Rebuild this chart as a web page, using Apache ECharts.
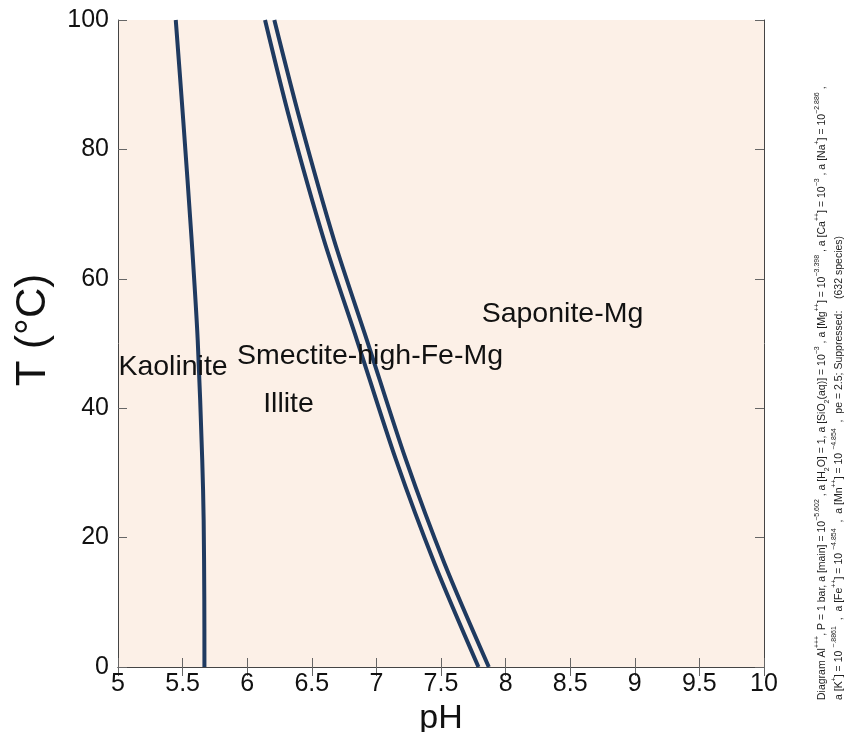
<!DOCTYPE html>
<html>
<head>
<meta charset="utf-8">
<script src="https://cdn.jsdelivr.net/npm/echarts@6/dist/echarts.min.js"></script>
<style>
  html, body { margin: 0; padding: 0; background: #ffffff; }
  #chart { width: 853px; height: 732px; }
</style>
</head>
<body>
<div id="chart"></div>
<script>
// Kaolinite / Illite boundary (temperature in °C, pH)
const kaoliniteT  = [0, 10.4, 22.7, 32.0, 50.5, 66.0, 84.5, 100];
const kaolinitePH = [5.669, 5.668, 5.663, 5.652, 5.617, 5.570, 5.505, 5.447];

// Illite / Smectite boundary
const boundaryAT  = [0, 16, 32, 50.5, 66, 84.5, 100];
const boundaryAPH = [7.79, 7.45, 7.152, 6.850, 6.594, 6.331, 6.138];

// Smectite / Saponite boundary
const boundaryBT  = [0, 16, 32, 50.5, 66, 84.5, 100];
const boundaryBPH = [7.87, 7.527, 7.229, 6.927, 6.672, 6.409, 6.210];

// Stability field labels
const fieldNames = ['Kaolinite', 'Smectite-high-Fe-Mg', 'Illite', 'Saponite-Mg'];
const fieldPH    = [5.426, 6.95, 6.32, 8.44];
const fieldT     = [46.4, 48.1, 40.6, 54.6];

// Axis ranges and tick steps
const phRange = [5, 10];
const phStep  = 0.5;
const tRange  = [0, 100];
const tStep   = 20;

const FONT = 'Liberation Sans, Arial, sans-serif';
const LINE_COLOR = '#1f3a60';

function pairs(xs, ys) { return xs.map((x, i) => [x, ys[i]]); }

// Conditions text (rich text with super/subscripts)
const noteLine1 =
  '{n|Diagram Al}{p|+++}{n|, P = 1 bar, a [main] = 10}{p|\u22125.602}' +
  '{n| , a [H}{b|2}{n|O] = 1, a [SiO}{b|2}{n|(aq)] = 10}{p|\u22123}' +
  '{n| , a [Mg}{p|++}{n|] = 10}{p|\u22123.398}{n| , a [Ca}{p|++}{n|] = 10}{p|\u22123}' +
  '{n| , a [Na}{p|+}{n|] = 10}{p|\u22122.886}{n| ,}';
const noteLine2 =
  '{n|a [K}{p|+}{n|] = 10 }{p|\u2212.8861}{n|  ,  a [Fe}{p|++}{n|] = 10 }{p|\u22124.854}' +
  '{n|  ,  a [Mn}{p|++}{n|] = 10 }{p|\u22124.854}{n|  ,  pe = 2.5; Suppressed:    (632 species)}';

const noteRich = {
  n: { fontSize: 10.5, lineHeight: 17, verticalAlign: 'middle', fontFamily: FONT, fill: '#222' },
  p: { fontSize: 7, lineHeight: 17, verticalAlign: 'top', fontFamily: FONT, fill: '#222' },
  b: { fontSize: 7, lineHeight: 17, verticalAlign: 'bottom', fontFamily: FONT, fill: '#222' }
};

const chart = echarts.init(document.getElementById('chart'), null, { renderer: 'canvas' });

const tickStyle = { inside: true, length: 9, lineStyle: { color: '#666', width: 1 } };
const axisLineStyle = { show: true, lineStyle: { color: '#444', width: 1 } };

const lineSeries = (data) => ({
  type: 'line',
  data: data,
  showSymbol: false,
  smooth: 0.3,
  silent: true,
  clip: true,
  lineStyle: { color: LINE_COLOR, width: 4 },
  z: 3
});

chart.setOption({
  animation: false,
  backgroundColor: '#ffffff',
  grid: {
    left: 118, right: 89, top: 20, bottom: 65,
    outerBoundsMode: 'none',
    containLabel: false,
    show: true, backgroundColor: '#fcf0e7', borderWidth: 0
  },
  xAxis: [
    {
      type: 'value', position: 'bottom',
      min: phRange[0], max: phRange[1], interval: phStep,
      axisLine: axisLineStyle, axisTick: tickStyle, splitLine: { show: false },
      axisLabel: { fontSize: 25, color: '#111', fontFamily: FONT, margin: 5 },
      name: 'pH', nameLocation: 'middle', nameGap: 33,
      nameTextStyle: { fontSize: 34, color: '#111', fontFamily: FONT, verticalAlign: 'top' }
    },
    {
      type: 'value', position: 'top',
      min: phRange[0], max: phRange[1], interval: phStep,
      axisLine: axisLineStyle, axisTick: tickStyle, splitLine: { show: false },
      axisLabel: { show: false }
    }
  ],
  yAxis: [
    {
      type: 'value', position: 'left',
      min: tRange[0], max: tRange[1], interval: tStep,
      axisLine: axisLineStyle, axisTick: tickStyle, splitLine: { show: false },
      axisLabel: { fontSize: 25, color: '#111', fontFamily: FONT, margin: 9 }
    },
    {
      type: 'value', position: 'right',
      min: tRange[0], max: tRange[1], interval: tStep,
      axisLine: axisLineStyle, axisTick: tickStyle, splitLine: { show: false },
      axisLabel: { show: false }
    }
  ],
  series: [
    lineSeries(pairs(kaolinitePH, kaoliniteT)),
    lineSeries(pairs(boundaryAPH, boundaryAT)),
    lineSeries(pairs(boundaryBPH, boundaryBT)),
    {
      type: 'scatter',
      symbolSize: 0,
      silent: true,
      z: 5,
      itemStyle: { opacity: 1 },
      data: fieldNames.map((n, i) => ({ name: n, value: [fieldPH[i], fieldT[i]] })),
      label: {
        show: true, position: 'inside', formatter: '{b}',
        fontSize: 28.5, color: '#111', fontFamily: FONT,
        textBorderWidth: 0
      }
    }
  ],
  graphic: [
    // vertical axis title
    {
      type: 'text', x: 33, y: 330, rotation: Math.PI / 2,
      style: {
        text: 'T (°C)', font: '42px ' + FONT, fill: '#111',
        align: 'center', verticalAlign: 'middle'
      }
    },
    {
      type: 'text', x: 822, y: 700, rotation: Math.PI / 2,
      style: { text: noteLine1, rich: noteRich, align: 'left', verticalAlign: 'middle' }
    },
    {
      type: 'text', x: 839, y: 700, rotation: Math.PI / 2,
      style: { text: noteLine2, rich: noteRich, align: 'left', verticalAlign: 'middle' }
    }
  ]
});
</script>
</body>
</html>
